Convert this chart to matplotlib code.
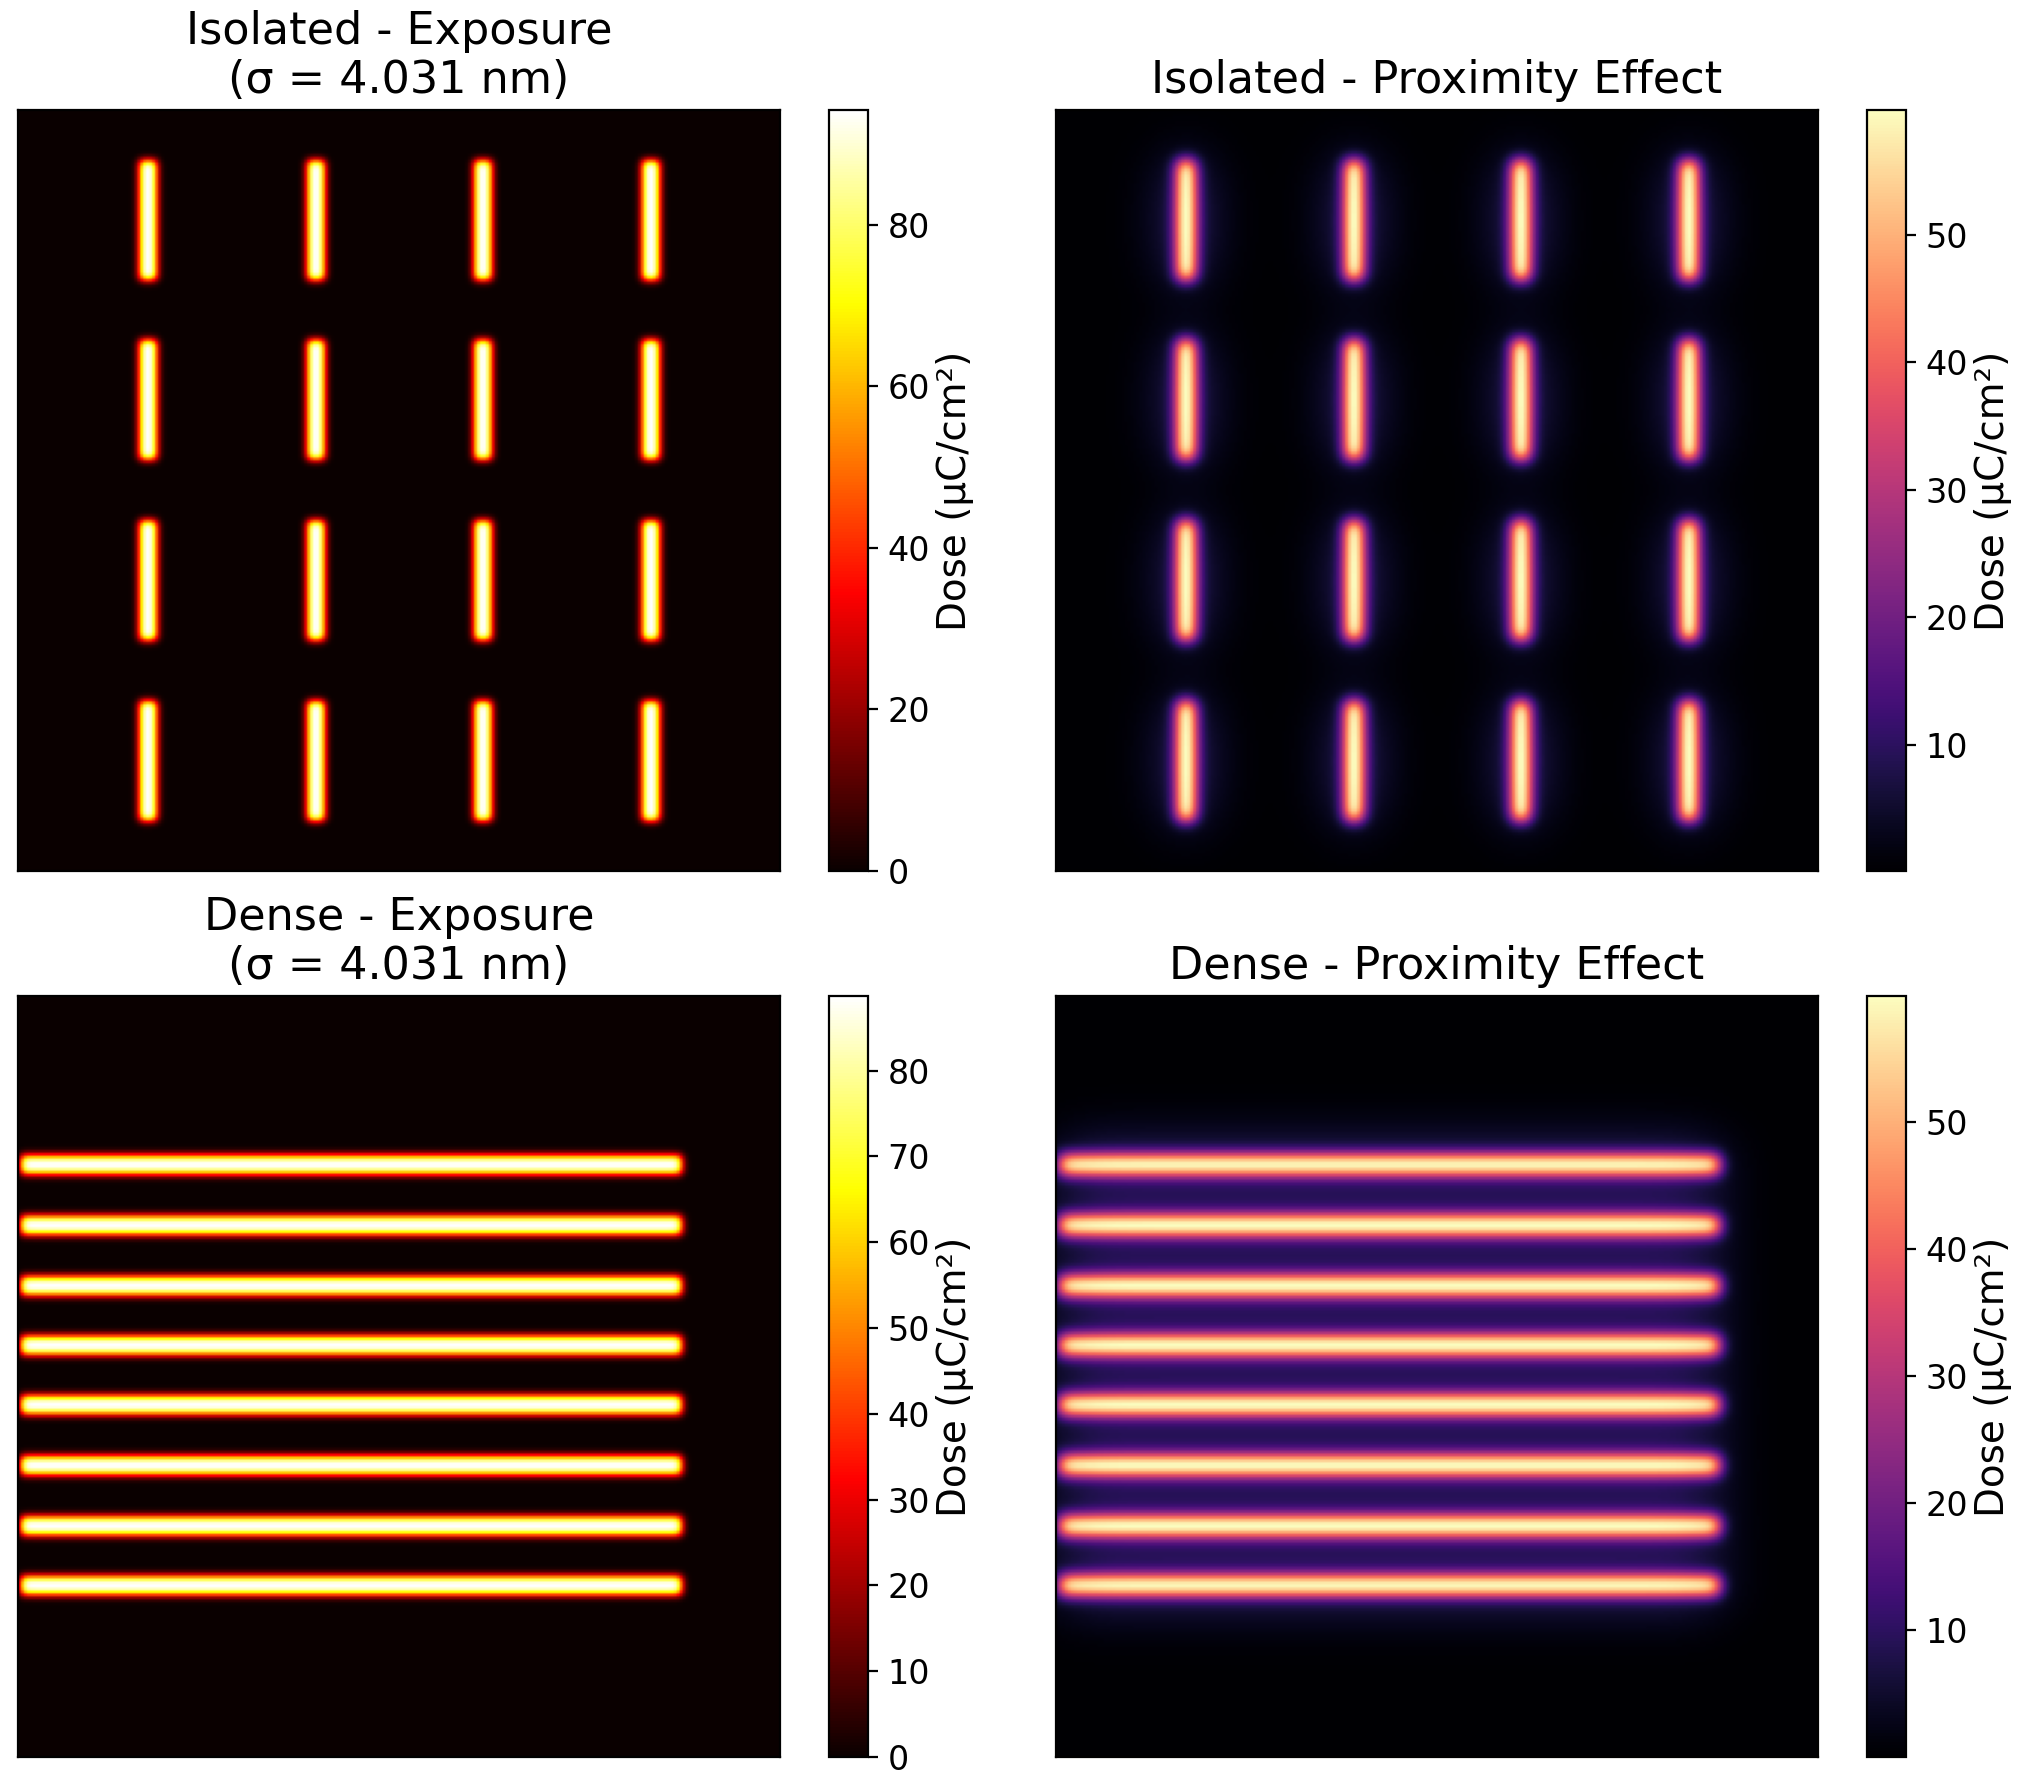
"""
Exposure vs. proximity-effect dose maps for isolated and dense line patterns.
"""

import math
import numpy as np
import matplotlib
matplotlib.use("Agg")
import matplotlib.pyplot as plt

# Simulation domain (nm) and grid
DOMAIN_NM = 768.0
PIXEL_NM = 3.0
SIGMA_NM = 4.031          # exposure blur
SIGMA_FWD_NM = 7.0        # proximity: forward-scatter range
SIGMA_BACK_NM = 30.0      # proximity: back-scatter range
ETA = 0.5                 # back/forward energy ratio

# Isolated pattern: 4 x 4 short vertical lines
ISO_X_CENTERS = [131, 300, 468, 637]
ISO_Y_CENTERS = [112, 293, 475, 657]
ISO_WIDTH = 17.0
ISO_LENGTH = 120.0

# Dense pattern: 8 long horizontal lines
DENSE_Y_CENTERS = [171, 232, 293, 353, 413, 474, 535, 595]
DENSE_X_START = 3.0
DENSE_X_END = 668.0
DENSE_WIDTH = 18.0

# Peak / floor doses (uC/cm^2)
PEAK_EXPOSURE = {"Isolated": 94.2, "Dense": 88.7}
PEAK_PROXIMITY = {"Isolated": 59.8, "Dense": 59.9}
FLOOR_PROXIMITY = {"Isolated": 0.08, "Dense": 0.05}

EXPOSURE_TICKS = {"Isolated": [0, 20, 40, 60, 80],
                  "Dense": [0, 10, 20, 30, 40, 50, 60, 70, 80]}
PROXIMITY_TICKS = [10, 20, 30, 40, 50]

_erf = np.vectorize(math.erf)


def _rects(pattern):
    if pattern == "Isolated":
        return [(xc - ISO_WIDTH / 2, xc + ISO_WIDTH / 2,
                 yc - ISO_LENGTH / 2, yc + ISO_LENGTH / 2)
                for yc in ISO_Y_CENTERS for xc in ISO_X_CENTERS]
    return [(DENSE_X_START, DENSE_X_END,
             yc - DENSE_WIDTH / 2, yc + DENSE_WIDTH / 2)
            for yc in DENSE_Y_CENTERS]


def _blur(pattern, sigma):
    """Rectangles convolved with a normalised Gaussian (analytic, via erf)."""
    n = int(round(DOMAIN_NM / PIXEL_NM))
    c = (np.arange(n) + 0.5) * PIXEL_NM
    s = math.sqrt(2) * sigma
    field = np.zeros((n, n))
    for x0, x1, y0, y1 in _rects(pattern):
        px = 0.5 * (_erf((c - x0) / s) - _erf((c - x1) / s))
        py = 0.5 * (_erf((c - y0) / s) - _erf((c - y1) / s))
        field += np.outer(py, px)
    return field


def exposure_map(pattern):
    f = _blur(pattern, SIGMA_NM)
    return f / f.max() * PEAK_EXPOSURE[pattern]


def proximity_map(pattern):
    f = (_blur(pattern, SIGMA_FWD_NM) + ETA * _blur(pattern, SIGMA_BACK_NM)) / (1 + ETA)
    f = f / f.max() * (PEAK_PROXIMITY[pattern] - FLOOR_PROXIMITY[pattern])
    return f + FLOOR_PROXIMITY[pattern]


W, H = 2026, 1785
fig = plt.figure(figsize=(W / 200, H / 200), dpi=200)

rows = {"Isolated": 1 - 871 / H, "Dense": 1 - 1757 / H}
ax_h = 761 / H
ax_w = 762 / W

for pattern, bottom in rows.items():
    # exposure (left)
    ax = fig.add_axes([18 / W, bottom, ax_w, ax_h])
    im = ax.imshow(exposure_map(pattern), cmap="hot", aspect="auto")
    ax.set_xticks([])
    ax.set_yticks([])
    ax.set_title(f"{pattern} - Exposure\n(σ = {SIGMA_NM:.3f} nm)", fontsize=16)
    cax = fig.add_axes([829 / W, bottom, 39 / W, ax_h])
    cb = fig.colorbar(im, cax=cax, ticks=EXPOSURE_TICKS[pattern])
    cb.set_label("Dose (μC/cm²)", fontsize=14, labelpad=2)
    cb.ax.tick_params(labelsize=12)

    # proximity effect (right)
    ax = fig.add_axes([1056 / W, bottom, ax_w, ax_h])
    im = ax.imshow(proximity_map(pattern), cmap="magma", aspect="auto")
    ax.set_xticks([])
    ax.set_yticks([])
    ax.set_title(f"{pattern} - Proximity Effect", fontsize=16)
    cax = fig.add_axes([1867 / W, bottom, 39 / W, ax_h])
    cb = fig.colorbar(im, cax=cax, ticks=PROXIMITY_TICKS)
    cb.set_label("Dose (μC/cm²)", fontsize=14, labelpad=2)
    cb.ax.tick_params(labelsize=12)

fig.savefig("out.png", dpi=200)
